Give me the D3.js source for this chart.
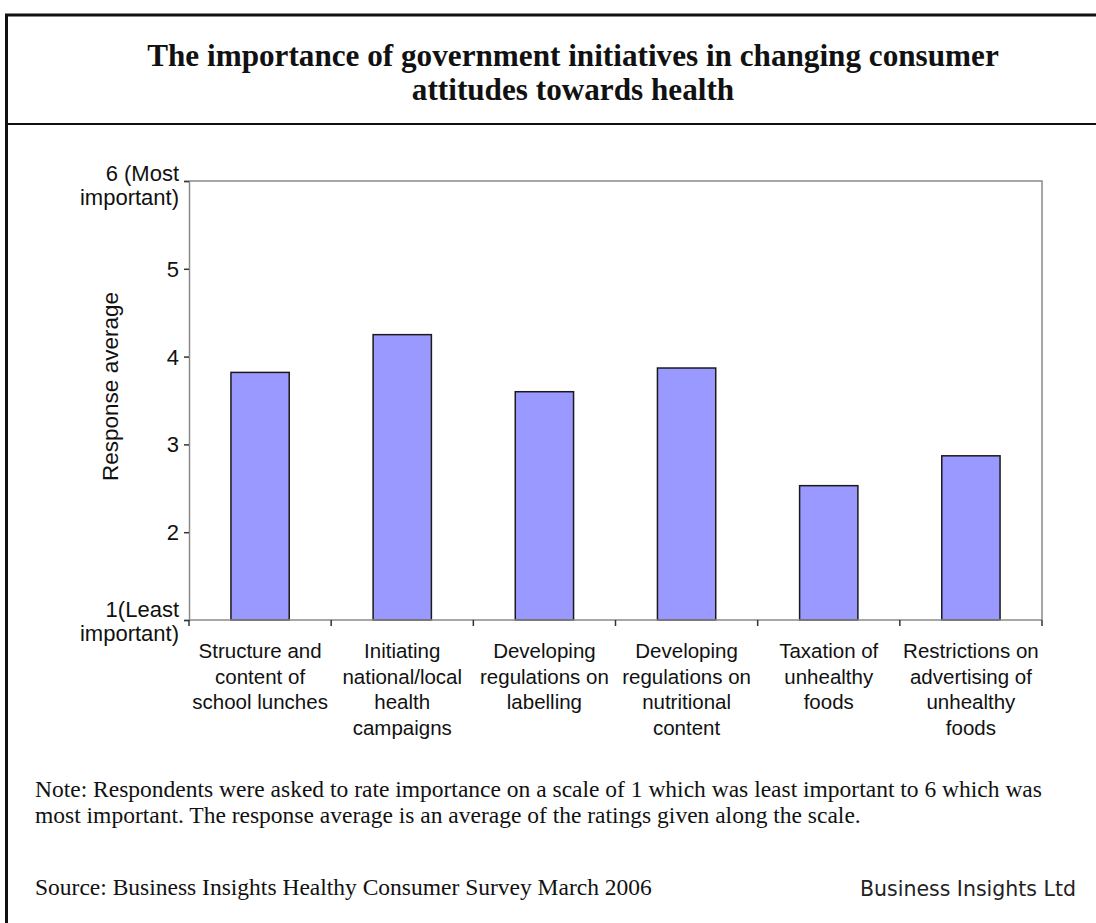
<!DOCTYPE html>
<html>
<head>
<meta charset="utf-8">
<script src="https://cdn.jsdelivr.net/npm/d3@7"></script>
<style>
  html, body { margin: 0; padding: 0; background: #fff; }
  svg { display: block; }
</style>
</head>
<body>
<svg id="chart" width="1096" height="923"></svg>
<script>
// Survey results: average importance rating (1–6) per initiative
const categories = [
  ["Structure and", "content of", "school lunches"],
  ["Initiating", "national/local", "health", "campaigns"],
  ["Developing", "regulations on", "labelling"],
  ["Developing", "regulations on", "nutritional", "content"],
  ["Taxation of", "unhealthy", "foods"],
  ["Restrictions on", "advertising of", "unhealthy", "foods"]
];
const responseAverage = [3.82, 4.25, 3.60, 3.87, 2.53, 2.87];
const yTickValues = [1, 2, 3, 4, 5, 6];
const yTickLabels = [["1(Least", "important)"], ["2"], ["3"], ["4"], ["5"], ["6 (Most", "important)"]];
const titleLines = ["The importance of government initiatives in changing consumer", "attitudes towards health"];
const noteLines = [
  "Note: Respondents were asked to rate importance on a scale of 1 which was least important to 6 which was",
  "most important. The response average is an average of the ratings given along the scale."
];
const sourceText = "Source: Business Insights Healthy Consumer Survey March 2006";
const publisherText = "Business Insights Ltd";
const yAxisTitle = "Response average";

const svg = d3.select("#chart");
const sans = "'Liberation Sans', Arial, sans-serif";
const serif = "'Liberation Serif', 'Times New Roman', serif";

// Frame: top rule, title separator, left rule
svg.append("line").attr("x1", 5).attr("x2", 1096).attr("y1", 15).attr("y2", 15)
  .attr("stroke", "#111").attr("stroke-width", 3);
svg.append("line").attr("x1", 5).attr("x2", 1096).attr("y1", 124).attr("y2", 124)
  .attr("stroke", "#111").attr("stroke-width", 2);
svg.append("line").attr("x1", 6.5).attr("x2", 6.5).attr("y1", 14).attr("y2", 923)
  .attr("stroke", "#111").attr("stroke-width", 3);

// Title
svg.append("text")
  .attr("text-anchor", "middle")
  .style("font-family", serif).style("font-weight", "bold").style("font-size", "31.2px")
  .attr("fill", "#111")
  .selectAll("tspan").data(titleLines).join("tspan")
  .attr("x", 573).attr("y", (d, i) => 66 + i * 34)
  .text(d => d);

// Plot area
const plot = { left: 189, right: 1042, top: 181, bottom: 620 };

const x = d3.scaleBand()
  .domain(d3.range(categories.length))
  .range([plot.left, plot.right])
  .paddingInner(0.59).paddingOuter(0.295);

const y = d3.scaleLinear().domain([1, 6]).range([plot.bottom, plot.top]);

// Plot frame (top and right edges)
svg.append("path")
  .attr("d", `M${plot.left},${plot.top}H${plot.right}V${plot.bottom}`)
  .attr("fill", "none").attr("stroke", "#8a8a8a").attr("stroke-width", 1.5);

// Bars
svg.append("g").selectAll("rect").data(responseAverage).join("rect")
  .attr("x", (d, i) => x(i))
  .attr("width", x.bandwidth())
  .attr("y", d => y(d))
  .attr("height", d => y(1) - y(d))
  .attr("fill", "#9999ff")
  .attr("stroke", "#1a1a1a").attr("stroke-width", 1.5);

// Y axis
const yAxis = d3.axisLeft(y).tickValues(yTickValues).tickSize(5).tickFormat("");
const gy = svg.append("g").attr("transform", `translate(${plot.left},0)`).call(yAxis);
gy.select(".domain").attr("stroke", "#8a8a8a").attr("stroke-width", 1.5);
gy.selectAll(".tick line").attr("stroke", "#333").attr("stroke-width", 1.5);

const yLabelG = svg.append("g")
  .style("font-family", sans).style("font-size", "22px").attr("fill", "#111");
yTickValues.forEach((v, i) => {
  const lines = yTickLabels[i];
  const t = yLabelG.append("text").attr("text-anchor", "end");
  if (lines.length === 1) {
    t.attr("x", plot.left - 10).attr("y", y(v)).attr("dy", "0.36em").text(lines[0]);
  } else {
    const base = v === 6 ? y(v) : y(v) - 3;
    t.selectAll("tspan").data(lines).join("tspan")
      .attr("x", plot.left - 10)
      .attr("y", (d, j) => base + j * 24)
      .text(d => d);
  }
});

// Y axis title
svg.append("text")
  .attr("transform", `translate(118,${(plot.top + plot.bottom) / 2 - 14}) rotate(-90)`)
  .attr("text-anchor", "middle")
  .style("font-family", sans).style("font-size", "22.5px").attr("fill", "#111")
  .text(yAxisTitle);

// X axis: ticks sit at the category boundaries
const boundaries = d3.range(categories.length + 1).map(i => plot.left + i * (plot.right - plot.left) / categories.length);
const gx = svg.append("g");
gx.append("line").attr("x1", plot.left).attr("x2", plot.right)
  .attr("y1", plot.bottom).attr("y2", plot.bottom)
  .attr("stroke", "#8a8a8a").attr("stroke-width", 1.5);
gx.selectAll("line.tk").data(boundaries).join("line").attr("class", "tk")
  .attr("x1", d => d).attr("x2", d => d)
  .attr("y1", plot.bottom).attr("y2", plot.bottom + 6)
  .attr("stroke", "#333").attr("stroke-width", 1.5);

// Category labels
svg.append("g").selectAll("text").data(categories).join("text")
  .attr("text-anchor", "middle")
  .style("font-family", sans).style("font-size", "20.5px").attr("fill", "#111")
  .each(function (lines, i) {
    d3.select(this).selectAll("tspan").data(lines).join("tspan")
      .attr("x", x(i) + x.bandwidth() / 2)
      .attr("y", (d, j) => 658 + j * 25.5)
      .text(d => d);
  });

// Note, source and publisher
svg.append("text")
  .style("font-family", serif).style("font-size", "23.5px").attr("fill", "#111")
  .selectAll("tspan").data(noteLines).join("tspan")
  .attr("x", 35).attr("y", (d, i) => 797 + i * 26)
  .text(d => d);

svg.append("text").attr("x", 35).attr("y", 895)
  .style("font-family", serif).style("font-size", "23.5px").attr("fill", "#111")
  .text(sourceText);

svg.append("text").attr("x", 1076).attr("y", 896).attr("text-anchor", "end")
  .style("font-family", "'DejaVu Sans', Verdana, sans-serif").style("font-size", "20.5px").attr("fill", "#222")
  .text(publisherText);
</script>
</body>
</html>
